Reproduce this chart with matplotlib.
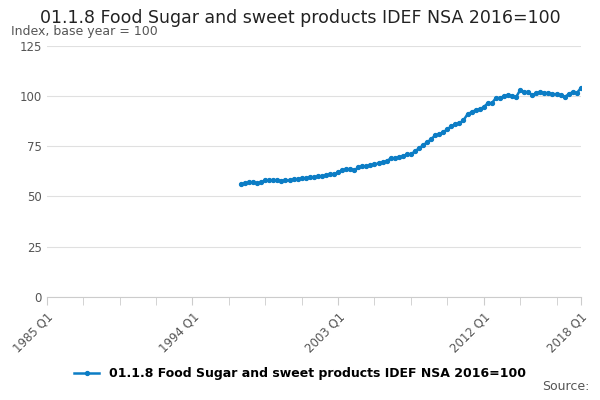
import matplotlib
matplotlib.use("Agg")
import matplotlib.pyplot as plt
import numpy as np

title = "01.1.8 Food Sugar and sweet products IDEF NSA 2016=100"
start_year = 1997
values = [56,56.5,57,57, 56.5,57,58,58, 58,58,57.8,58, 58,58.5,58.5,59,
          59,59.5,59.5,60, 60,60.5,61,61, 62,63,63.5,63.5, 63,64.5,65,65,
          65.5,66,66.5,67, 67.5,69,69,69.5, 70,71,71,72.5, 74,75.5,77,78.5,
          80.5,81,82,83.5, 85,86,86.5,88, 91,92,93,93.5, 94.5,96.5,96.5,99,
          99,100,100.5,100, 99.5,103,102,102, 100.5,101.5,102,101.5,
          101.5,101,101,100.5, 99.5,101,102,101.5, 104]
tick_labels = ["1985 Q1", "1994 Q1", "2003 Q1", "2012 Q1", "2018 Q1"]

q = np.arange(len(values)) + (start_year - 1985) * 4  # quarters since 1985 Q1

fig = plt.figure(figsize=(6, 4), dpi=100)
ax = fig.add_axes([0.078, 0.258, 0.89, 0.627])
color = "#0c7dc5"
ax.plot(q, values, color=color, lw=1.8, marker="o", ms=2.8, label=title)
ax.set_xlim(0, 132)
ax.set_ylim(0, 125)
ax.set_yticks([0, 25, 50, 75, 100, 125])
ax.tick_params(axis="y", length=0, labelsize=8.5, colors="#555555")
ax.set_xticks(np.arange(0, 133, 9), minor=True)
ax.set_xticks([0, 36, 72, 108, 132])
ax.set_xticklabels(tick_labels, rotation=45, ha="right", rotation_mode="anchor", fontsize=8.5, color="#555555")
ax.tick_params(axis="x", which="both", length=6, color="#cccccc")
ax.grid(axis="y", color="#e0e0e0", lw=0.8)
for s in ["top", "right", "left"]:
    ax.spines[s].set_visible(False)
ax.spines["bottom"].set_color("#cccccc")
fig.text(0.5, 0.955, title, ha="center", va="center", fontsize=12.5, color="#222222")
fig.text(0.018, 0.92, "Index, base year = 100", fontsize=9, color="#555555", va="center")
fig.legend(loc="center", bbox_to_anchor=(0.5, 0.065), frameon=False,
           prop={"weight": "bold", "size": 9})
fig.text(0.982, 0.025, "Source:", ha="right", fontsize=9, color="#555555")
fig.savefig("out.png", dpi=100)
